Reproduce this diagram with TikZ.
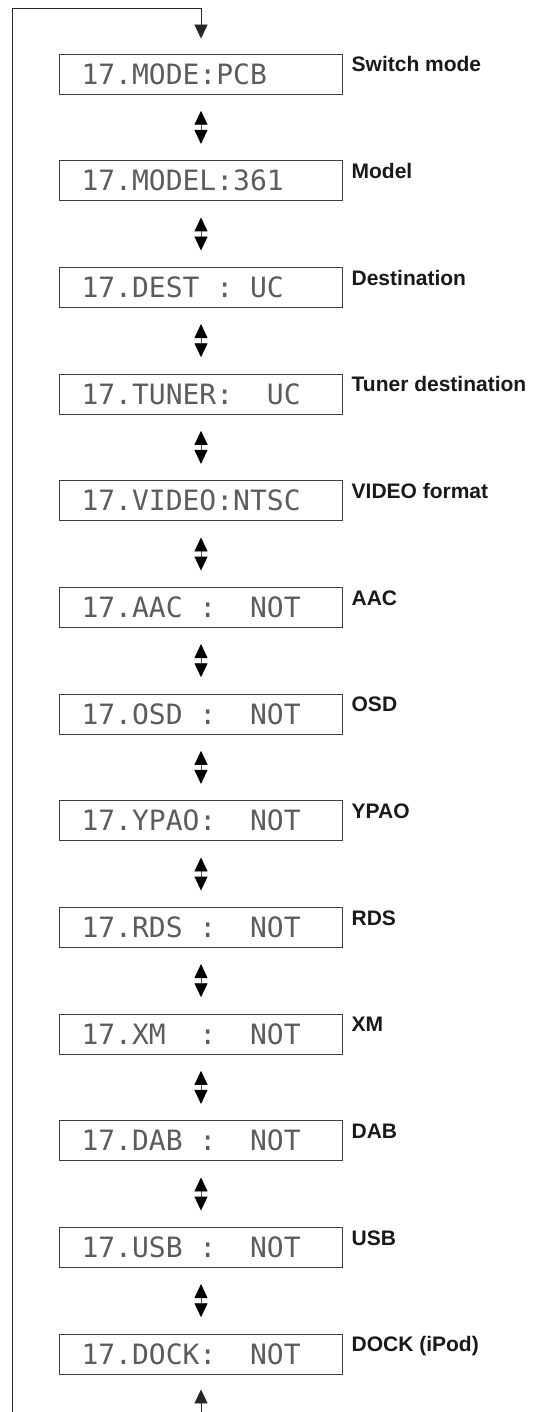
\documentclass[tikz,border=0pt]{standalone}
\usepackage{fontspec}
\setmainfont{Liberation Sans}
\newfontfamily\dotfont{DejaVu Sans Mono}
\usepackage{xcolor}
\definecolor{lcdgray}{rgb}{0.36,0.36,0.36}
\usepackage{tikz}
\usetikzlibrary{arrows.meta}
\newcommand{\lcdsp}{\hphantom{0}}

\begin{document}
\begin{tikzpicture}[
    x=1pt, y=1pt,
    panel/.style={
        draw=black!75, line width=0.9pt,
        minimum width=283pt, minimum height=40pt,
        text width=239pt, inner xsep=22pt, inner ysep=0pt,
        text height=20.4pt, text depth=0pt, align=left,
        text=lcdgray, font=\dotfont\fontsize{28}{30}\selectfont
    },
    desc/.style={anchor=base west, inner sep=0pt, text=black!90,
        font=\bfseries\fontsize{21}{25}\selectfont},
    toggle/.style={{Triangle[length=14pt,width=13pt,color=black]}-{Triangle[length=14pt,width=13pt,color=black]},
        line width=0.9pt, draw=black!70, shorten <=16.3pt, shorten >=16.3pt},
    loopline/.style={-{Triangle[length=14pt,width=13pt]}, line width=0.9pt, draw=black!85, shorten >=15pt}
]
\useasboundingbox (0,0) rectangle (535,-1412);

\node[panel] (mode)  at (201,-74)     {17.MODE:PCB};
\node[panel] (model) at (201,-180.7)  {17.MODEL:361};
\node[panel] (dest)  at (201,-287.3)  {17.DEST\lcdsp:\lcdsp UC};
\node[panel] (tuner) at (201,-394)    {17.TUNER:\lcdsp\lcdsp UC};
\node[panel] (video) at (201,-500.7)  {17.VIDEO:NTSC};
\node[panel] (aac)   at (201,-607.3)  {17.AAC\lcdsp:\lcdsp\lcdsp NOT};
\node[panel] (osd)   at (201,-714)    {17.OSD\lcdsp:\lcdsp\lcdsp NOT};
\node[panel] (ypao)  at (201,-820.7)  {17.YPAO:\lcdsp\lcdsp NOT};
\node[panel] (rds)   at (201,-927.3)  {17.RDS\lcdsp:\lcdsp\lcdsp NOT};
\node[panel] (xm)    at (201,-1034)   {17.XM\lcdsp\lcdsp:\lcdsp\lcdsp NOT};
\node[panel] (dab)   at (201,-1140.7) {17.DAB\lcdsp:\lcdsp\lcdsp NOT};
\node[panel] (usb)   at (201,-1247.3) {17.USB\lcdsp:\lcdsp\lcdsp NOT};
\node[panel] (dock)  at (201,-1354)   {17.DOCK:\lcdsp\lcdsp NOT};

\node[desc] (modetxt)  at ([xshift=8.5pt,yshift=-18.3pt]mode.north east)  {Switch mode};
\node[desc] (modeltxt) at ([xshift=8.5pt,yshift=-18.3pt]model.north east) {Model};
\node[desc] (desttxt)  at ([xshift=8.5pt,yshift=-18.3pt]dest.north east)  {Destination};
\node[desc] (tunertxt) at ([xshift=8.5pt,yshift=-18.3pt]tuner.north east) {Tuner destination};
\node[desc] (videotxt) at ([xshift=8.5pt,yshift=-18.3pt]video.north east) {VIDEO format};
\node[desc] (aactxt)   at ([xshift=8.5pt,yshift=-18.3pt]aac.north east)   {AAC};
\node[desc] (osdtxt)   at ([xshift=8.5pt,yshift=-18.3pt]osd.north east)   {OSD};
\node[desc] (ypaotxt)  at ([xshift=8.5pt,yshift=-18.3pt]ypao.north east)  {YPAO};
\node[desc] (rdstxt)   at ([xshift=8.5pt,yshift=-18.3pt]rds.north east)   {RDS};
\node[desc] (xmtxt)    at ([xshift=8.5pt,yshift=-18.3pt]xm.north east)    {XM};
\node[desc] (dabtxt)   at ([xshift=8.5pt,yshift=-18.3pt]dab.north east)   {DAB};
\node[desc] (usbtxt)   at ([xshift=8.5pt,yshift=-18.3pt]usb.north east)   {USB};
\node[desc] (docktxt)  at ([xshift=8.5pt,yshift=-18.3pt]dock.north east)  {DOCK (iPod)};

% return path
\coordinate (loopstart) at (12.7,-1412);
\coordinate (loopcorner) at (12.7,-8.3);
\coordinate (looptop) at (201,-8.3);
\coordinate (loopend) at (201,-1412);

\draw[loopline] (loopstart) -- (loopcorner) -- (looptop) -- (mode.north);
\draw[loopline] (loopend) -- (dock.south);

\draw[toggle] (mode) -- (model);
\draw[toggle] (model) -- (dest);
\draw[toggle] (dest) -- (tuner);
\draw[toggle] (tuner) -- (video);
\draw[toggle] (video) -- (aac);
\draw[toggle] (aac) -- (osd);
\draw[toggle] (osd) -- (ypao);
\draw[toggle] (ypao) -- (rds);
\draw[toggle] (rds) -- (xm);
\draw[toggle] (xm) -- (dab);
\draw[toggle] (dab) -- (usb);
\draw[toggle] (usb) -- (dock);
\end{tikzpicture}
\end{document}
